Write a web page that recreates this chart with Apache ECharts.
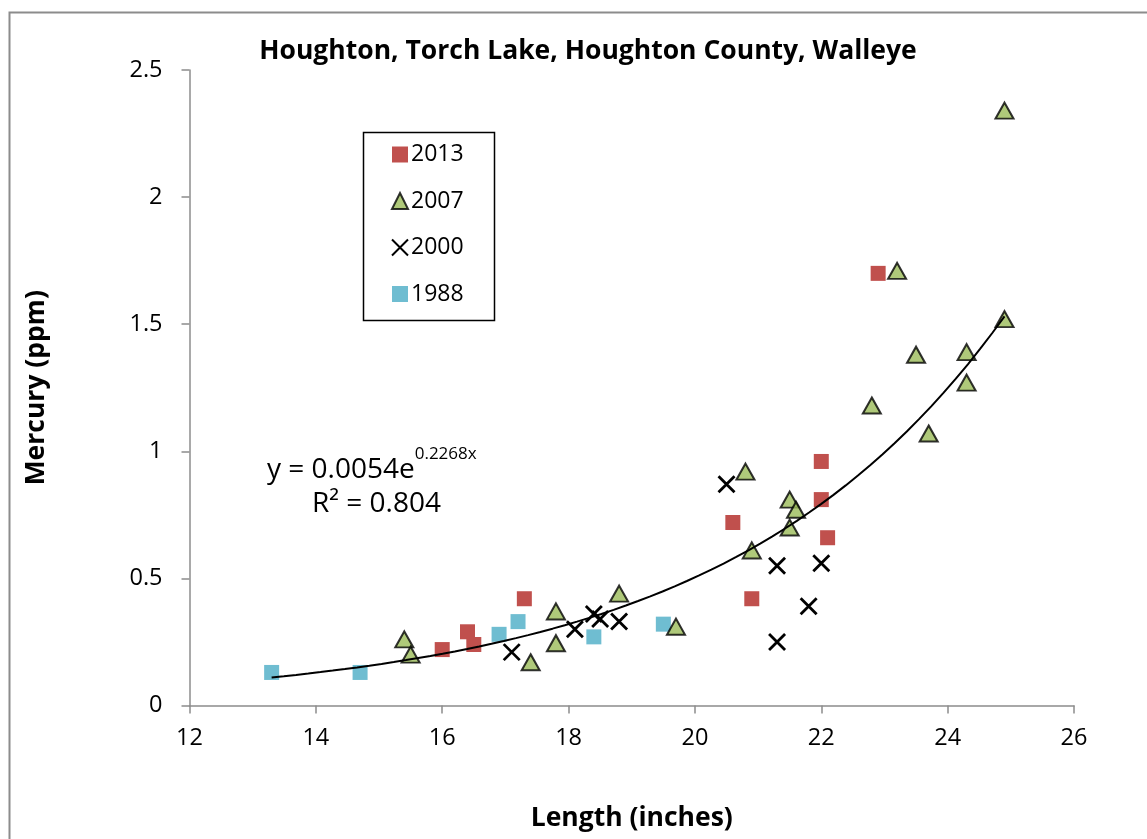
<!DOCTYPE html>
<html>
<head>
<meta charset="utf-8">
<style>
  html, body { margin: 0; padding: 0; background: #fff; }
  #chart { width: 1147px; height: 839px; }
</style>
<script src="https://cdn.jsdelivr.net/npm/echarts@6/dist/echarts.min.js"></script>
</head>
<body>
<div id="chart"></div>
<script>
// Walleye mercury vs length, Torch Lake (Houghton County)
const series2013 = [[16.0,0.22],[16.4,0.29],[16.5,0.24],[17.3,0.42],[20.6,0.72],[20.9,0.42],[22.0,0.96],[22.0,0.81],[22.1,0.66],[22.9,1.70]];
const series2007 = [[15.4,0.26],[15.5,0.20],[17.4,0.17],[17.8,0.37],[17.8,0.245],[18.8,0.44],[19.7,0.31],[20.8,0.92],[20.9,0.61],[21.5,0.81],[21.6,0.77],[21.5,0.70],[22.8,1.18],[23.2,1.71],[23.5,1.38],[23.7,1.07],[24.3,1.39],[24.3,1.27],[24.9,1.52],[24.9,2.34]];
const series2000 = [[17.1,0.21],[18.1,0.30],[18.4,0.36],[18.5,0.34],[18.8,0.33],[20.5,0.87],[21.3,0.55],[22.0,0.56],[21.8,0.39],[21.3,0.25]];
const series1988 = [[13.3,0.13],[14.7,0.13],[16.9,0.28],[17.2,0.33],[18.4,0.27],[19.5,0.32]];

// Exponential fit y = a * e^(b x), drawn over the measured length range
const fitCoef = [0.0054, 0.2268];
const fitRange = [13.3, 24.9];
const fitR2 = '0.804';

const fitLine = [];
for (let i = 0; i <= 60; i++) {
  const x = fitRange[0] + (fitRange[1] - fitRange[0]) * i / 60;
  fitLine.push([x, fitCoef[0] * Math.exp(fitCoef[1] * x)]);
}

const FONT = '"Open Sans", Lato, sans-serif';
const crossPath = 'path://M0,0L10,10M10,0L0,10';

const chart = echarts.init(document.getElementById('chart'));
chart.setOption({
  backgroundColor: '#fff',
  animation: false,
  textStyle: { fontFamily: FONT, color: '#000' },
  title: {
    text: 'Houghton, Torch Lake, Houghton County, Walleye',
    left: 583, top: 33, textAlign: 'center',
    textStyle: { fontFamily: FONT, fontWeight: 'bold', fontSize: 26.5, color: '#000' }
  },
  grid: { left: 189.5, right: 73, top: 70, bottom: 133.5 },
  xAxis: {
    type: 'value', min: 12, max: 26, interval: 2,
    name: 'Length (inches)', nameLocation: 'middle', nameGap: 99,
    nameTextStyle: { fontFamily: FONT, fontWeight: 'bold', fontSize: 26.5, color: '#000' },
    axisLine: { show: true, lineStyle: { color: '#8c8c8c', width: 1.5 } },
    axisTick: { show: true, length: 8, lineStyle: { color: '#8c8c8c', width: 1.5 } },
    axisLabel: { fontFamily: FONT, fontSize: 23.5, color: '#000', margin: 21 },
    splitLine: { show: false }
  },
  yAxis: {
    type: 'value', min: 0, max: 2.5, interval: 0.5,
    name: 'Mercury (ppm)', nameLocation: 'middle', nameGap: 140, nameRotate: 90,
    nameTextStyle: { fontFamily: FONT, fontWeight: 'bold', fontSize: 26.5, color: '#000' },
    axisLine: { show: true, lineStyle: { color: '#8c8c8c', width: 1.5 } },
    axisTick: { show: true, length: 8, lineStyle: { color: '#8c8c8c', width: 1.5 } },
    axisLabel: { fontFamily: FONT, fontSize: 23.5, color: '#000', margin: 27 },
    splitLine: { show: false }
  },
  legend: {
    orient: 'vertical', left: 386, top: 138,
    itemGap: 23.5, itemWidth: 16, itemHeight: 16,
    textStyle: { fontFamily: FONT, fontSize: 23, color: '#000', padding: [0, 0, 0, -2] },
    data: ['2013', '2007', '2000', '1988']
  },
  graphic: [
    { type: 'rect', left: 7, top: 10, shape: { width: 1160, height: 850 },
      style: { fill: 'none', stroke: '#8c8c8c', lineWidth: 2 }, silent: true },
    { type: 'rect', left: 361, top: 130, shape: { width: 131, height: 188 },
      style: { fill: 'none', stroke: '#000', lineWidth: 1.5 }, silent: true },
    { type: 'text', left: 267, top: 446,
      style: {
        text: '{a|y = ' + fitCoef[0] + 'e}{s|' + fitCoef[1] + 'x}',
        rich: {
          a: { fontFamily: FONT, fontSize: 28, color: '#000', verticalAlign: 'bottom', lineHeight: 38 },
          s: { fontFamily: FONT, fontSize: 17, color: '#000', verticalAlign: 'top', lineHeight: 38, padding: [0, 0, 6, 0] }
        }
      } },
    { type: 'text', left: 312, top: 490,
      style: { text: 'R\u00B2 = ' + fitR2, fontFamily: FONT, fontSize: 28, fill: '#000' } }
  ],
  series: [
    { name: '2013', type: 'scatter', data: series2013, symbol: 'rect', symbolSize: 15,
      itemStyle: { color: '#C0504D', opacity: 1 }, z: 3 },
    { name: '2007', type: 'scatter', data: series2007, symbol: 'triangle', symbolSize: [18, 16],
      itemStyle: { color: '#9BBB59', borderColor: '#000', borderWidth: 2 }, z: 4 },
    { name: '2000', type: 'scatter', data: series2000, symbol: crossPath, symbolSize: 16,
      itemStyle: { color: 'rgba(0,0,0,0)', borderColor: '#000', borderWidth: 2.8, opacity: 1 }, z: 5 },
    { name: '1988', type: 'scatter', data: series1988, symbol: 'rect', symbolSize: 15,
      itemStyle: { color: '#4BACC6' }, z: 3 },
    { name: 'fit', type: 'line', data: fitLine, showSymbol: false, smooth: false,
      lineStyle: { color: '#000', width: 2 }, z: 6, silent: true }
  ]
});
</script>
</body>
</html>
